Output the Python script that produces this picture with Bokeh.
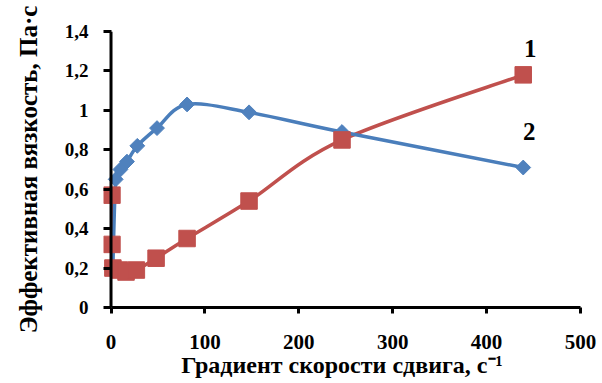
import numpy as np
from bokeh.plotting import figure
from bokeh.models import FixedTicker, Range1d, Span
from bokeh.core.properties import value
from bokeh.embed import file_html
from bokeh.resources import INLINE

# Series 1 (red squares)
x1 = [1, 1, 2, 9, 16, 27, 48, 81, 147, 246, 439]
y1 = [0.57, 0.32, 0.2, 0.19, 0.18, 0.19, 0.25, 0.35, 0.54, 0.85, 1.18]
# Series 2 (blue diamonds)
x2 = [2, 5, 10, 17, 28, 49, 81, 147, 246, 439]
y2 = [0.21, 0.65, 0.70, 0.74, 0.82, 0.91, 1.03, 0.99, 0.89, 0.71]

x_ticks = [0, 100, 200, 300, 400, 500]
y_ticks = [0, 0.2, 0.4, 0.6, 0.8, 1.0, 1.2, 1.4]
y_tick_labels = ["0", "0,2", "0,4", "0,6", "0,8", "1", "1,2", "1,4"]

RED = "#C0504D"
BLUE = "#4A7EBB"
FONT = "Liberation Serif"


def smooth_segments(xs, ys):
    """Catmull-Rom (Excel-like) smoothing expressed as cubic Bezier segments."""
    xs = np.asarray(xs, float)
    ys = np.asarray(ys, float)
    n = len(xs)
    x0, y0, x1_, y1_, cx0, cy0, cx1, cy1 = ([] for _ in range(8))
    for i in range(n - 1):
        p0 = max(i - 1, 0)
        p3 = min(i + 2, n - 1)
        x0.append(xs[i]); y0.append(ys[i])
        x1_.append(xs[i + 1]); y1_.append(ys[i + 1])
        cx0.append(xs[i] + (xs[i + 1] - xs[p0]) / 6.0)
        cy0.append(ys[i] + (ys[i + 1] - ys[p0]) / 6.0)
        cx1.append(xs[i + 1] - (xs[p3] - xs[i]) / 6.0)
        cy1.append(ys[i + 1] - (ys[p3] - ys[i]) / 6.0)
    return dict(x0=x0, y0=y0, x1=x1_, y1=y1_, cx0=cx0, cy0=cy0, cx1=cx1, cy1=cy1)


# frame starts slightly left of x=0 so markers at x~1 are not clipped
X_START = -8
p = figure(frame_width=477, frame_height=276, output_backend="svg",
           toolbar_location=None, min_border_left=103, min_border_right=22,
           min_border_top=31, min_border_bottom=76)
p.x_range = Range1d(X_START, 500)
p.y_range = Range1d(0, 1.4)
p.outline_line_color = None
p.xgrid.visible = False
p.ygrid.visible = False
p.background_fill_color = "white"
p.border_fill_color = "white"

# y axis line drawn at x=0
p.add_layout(Span(location=0, dimension="height", line_color="black", line_width=3))

# curves
for xs, ys, col in [(x1, y1, RED), (x2, y2, BLUE)]:
    seg = smooth_segments(xs, ys)
    p.bezier(x0=seg["x0"], y0=seg["y0"], x1=seg["x1"], y1=seg["y1"],
             cx0=seg["cx0"], cy0=seg["cy0"], cx1=seg["cx1"], cy1=seg["cy1"],
             line_color=col, line_width=3.5)

p.scatter(x2, y2, marker="square", angle=np.pi / 4, size=10.5,
          fill_color="#4F81BD", line_color="#4F81BD")
p.scatter(x1, y1, marker="square", size=16.5,
          fill_color=RED, line_color=RED)

# series labels
p.text(x=[x1[-1]], y=[y1[-1]], text=["1"], text_font=value(FONT),
       text_font_style="bold", text_font_size="25px", text_align="center",
       text_baseline="middle", x_offset=7, y_offset=-26, text_color="black")
p.text(x=[x2[-1]], y=[y2[-1]], text=["2"], text_font=value(FONT),
       text_font_style="bold", text_font_size="25px", text_align="center",
       text_baseline="middle", x_offset=6, y_offset=-36, text_color="black")

for ax in (p.xaxis[0], p.yaxis[0]):
    ax.axis_line_width = 3
    ax.axis_line_color = "black"
    ax.major_tick_line_width = 3
    ax.major_tick_line_color = "black"
    ax.minor_tick_line_color = None
    ax.major_label_text_font = FONT
    ax.major_label_text_font_style = "bold"
    ax.major_label_text_color = "black"
    ax.axis_label_text_font = FONT
    ax.axis_label_text_font_style = "bold"
    ax.axis_label_text_color = "black"

p.xaxis.bounds = (0, 500)
p.xaxis.major_tick_in = 0
p.xaxis.major_tick_out = 6
p.yaxis.axis_line_color = None
p.yaxis.major_tick_in = 8
p.yaxis.major_tick_out = 0

p.xaxis.ticker = FixedTicker(ticks=x_ticks)
p.yaxis.ticker = FixedTicker(ticks=y_ticks)
p.yaxis.major_label_overrides = {t: l for t, l in zip(y_ticks, y_tick_labels)}

p.xaxis.major_label_text_font_size = "21px"
p.yaxis.major_label_text_font_size = "19px"
p.xaxis.major_label_standoff = 21
p.yaxis.major_label_standoff = 15

p.xaxis.axis_label = "Градиент скорости сдвига, с⁻¹"
p.yaxis.axis_label = "Эффективная вязкость, Па·с"
p.xaxis.axis_label_text_font_size = "24px"
p.yaxis.axis_label_text_font_size = "25px"
p.xaxis.axis_label_standoff = 0
p.yaxis.axis_label_standoff = 20

open("out.html", "w").write(file_html(p, INLINE))
